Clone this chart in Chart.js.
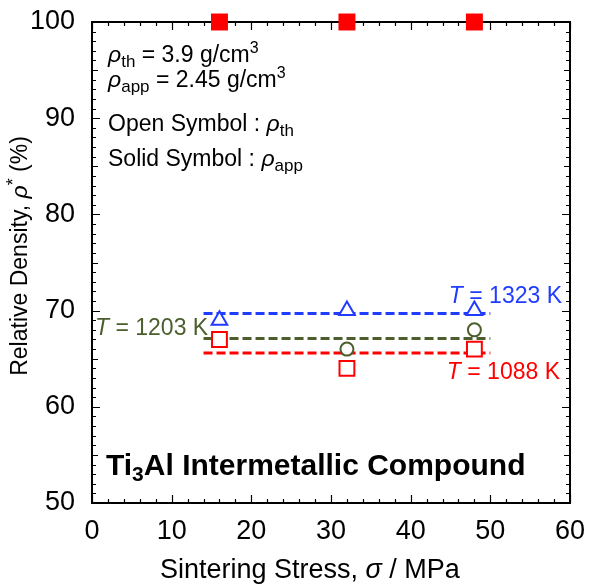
<!DOCTYPE html>
<html>
<head>
<meta charset="utf-8">
<script src="https://cdn.jsdelivr.net/npm/chart.js@4"></script>
<style>
  html, body { margin: 0; padding: 0; background: #fff; }
  #wrap { width: 589px; height: 585px; }
</style>
</head>
<body>
<div id="wrap"><canvas id="density"></canvas></div>
<script>
// sintering stress (MPa)
const stress = [16, 32, 48];
// solid symbols: rho_app based density
const apparent = [100, 100, 100];
// open symbols: rho_th based density
const theo1323 = [69, 70, 70];
const theo1203 = [null, 66, 68];
const theo1088 = [67, 64, 66];
// dashed average lines
const fitRange = [14, 50];
const mean1323 = 69.7;
const mean1203 = 67.1;
const mean1088 = 65.6;

const xTicks = [0, 10, 20, 30, 40, 50, 60];
const yTicks = [50, 60, 70, 80, 90, 100];

const BLUE = '#1f3cff';
const GREEN = '#4b5e2c';
const RED = '#ff0000';
const FONT = '"Liberation Sans", Arial, sans-serif';

const pts = ys => stress.map((x, i) => ({ x: x, y: ys[i] })).filter(p => p.y !== null);
const flat = m => fitRange.map(x => ({ x: x, y: m }));

// draw a run of text pieces with different fonts / offsets
function rich(ctx, parts, x, y, align) {
  let w = 0;
  parts.forEach(p => { ctx.font = p.f; w += ctx.measureText(p.t).width; });
  let cx = align === 'right' ? x - w : align === 'center' ? x - w / 2 : x;
  parts.forEach(p => {
    ctx.font = p.f;
    ctx.fillText(p.t, cx, y + (p.dy || 0));
    cx += ctx.measureText(p.t).width;
  });
}

// keep the plot box fixed, labels may overhang
function noPad(s) {
  s.paddingLeft = s.paddingRight = s.paddingTop = s.paddingBottom = 0;
}

const frame = {
  id: 'frame',
  beforeDatasetsDraw(chart) {
    const { ctx, chartArea: a, scales: { x, y } } = chart;
    ctx.save();
    ctx.strokeStyle = '#000';
    ctx.lineWidth = 1.2;
    ctx.beginPath();
    for (let v = 0; v <= 60; v += 2) {
      const px = Math.round(x.getPixelForValue(v)) + 0.5;
      const len = v % 10 === 0 ? 8 : 4;
      ctx.moveTo(px, a.bottom); ctx.lineTo(px, a.bottom - len);
      ctx.moveTo(px, a.top); ctx.lineTo(px, a.top + len);
    }
    for (let v = 50; v <= 100; v += 1) {
      const py = Math.round(y.getPixelForValue(v)) + 0.5;
      const len = v % 10 === 0 ? 8 : v % 5 === 0 ? 6 : 4;
      ctx.moveTo(a.left, py); ctx.lineTo(a.left + len, py);
      ctx.moveTo(a.right, py); ctx.lineTo(a.right - len, py);
    }
    ctx.stroke();
    ctx.lineWidth = 2;
    ctx.strokeRect(a.left, a.top, a.right - a.left, a.bottom - a.top);
    ctx.restore();
  },
  afterDraw(chart) {
    const { ctx } = chart;
    ctx.save();
    ctx.fillStyle = '#000';
    ctx.textBaseline = 'alphabetic';
    const f = s => s + 'px ' + FONT;
    const fi = s => 'italic ' + s + 'px ' + FONT;

    // axis titles
    rich(ctx, [
      { t: 'Sintering Stress, ', f: f(27) },
      { t: 'σ', f: fi(27) },
      { t: ' / MPa', f: f(27) }
    ], 160, 578, 'left');

    ctx.save();
    ctx.translate(27, 256);
    ctx.rotate(-Math.PI / 2);
    rich(ctx, [
      { t: 'Relative Density, ', f: f(23) },
      { t: 'ρ', f: fi(23) },
      { t: '*', f: f(18), dy: -8 },
      { t: ' (%)', f: f(23) }
    ], 0, 0, 'center');
    ctx.restore();

    // legend notes
    rich(ctx, [
      { t: 'ρ', f: fi(23) }, { t: 'th', f: f(17), dy: 5 },
      { t: ' = 3.9 g/cm', f: f(23) }, { t: '3', f: f(16), dy: -9 }
    ], 108, 62, 'left');
    rich(ctx, [
      { t: 'ρ', f: fi(23) }, { t: 'app', f: f(17), dy: 5 },
      { t: ' = 2.45 g/cm', f: f(23) }, { t: '3', f: f(16), dy: -9 }
    ], 108, 87, 'left');
    rich(ctx, [
      { t: 'Open Symbol : ', f: f(23) },
      { t: 'ρ', f: fi(23) }, { t: 'th', f: f(17), dy: 5 }
    ], 108, 131, 'left');
    rich(ctx, [
      { t: 'Solid Symbol : ', f: f(23) },
      { t: 'ρ', f: fi(23) }, { t: 'app', f: f(17), dy: 5 }
    ], 108, 166, 'left');

    // material name
    rich(ctx, [
      { t: 'Ti', f: 'bold 30px ' + FONT },
      { t: '3', f: 'bold 21px ' + FONT, dy: 6 },
      { t: 'Al Intermetallic Compound', f: 'bold 30px ' + FONT }
    ], 106, 475, 'left');

    // temperature labels
    ctx.fillStyle = BLUE;
    rich(ctx, [{ t: 'T', f: fi(23) }, { t: ' = 1323 K', f: f(23) }], 562, 303, 'right');
    ctx.fillStyle = GREEN;
    rich(ctx, [{ t: 'T', f: fi(23) }, { t: ' = 1203 K', f: f(23) }], 95, 335, 'left');
    ctx.fillStyle = RED;
    rich(ctx, [{ t: 'T', f: fi(23) }, { t: ' = 1088 K', f: f(23) }], 560, 379, 'right');
    ctx.restore();
  }
};

const openPt = (label, data, color, style, r) => ({
  label, data, showLine: false,
  pointStyle: style, pointRadius: r, pointHoverRadius: r,
  pointBorderWidth: 2, borderColor: color,
  pointBackgroundColor: '#fff', backgroundColor: '#fff', order: 1
});
const dash = (label, data, color) => ({
  label, data, showLine: true, pointRadius: 0,
  borderColor: color, borderWidth: 3, borderDash: [9, 4], order: 5
});

new Chart(document.getElementById('density'), {
  type: 'scatter',
  data: {
    datasets: [
      dash('mean 1323 K', flat(mean1323), BLUE),
      dash('mean 1203 K', flat(mean1203), GREEN),
      dash('mean 1088 K', flat(mean1088), RED),
      openPt('1323 K', pts(theo1323), BLUE, 'triangle', 9),
      openPt('1203 K', pts(theo1203), GREEN, 'circle', 6.5),
      openPt('1088 K', pts(theo1088), RED, 'rect', 10.5),
      {
        label: 'rho_app', data: pts(apparent), showLine: false,
        pointStyle: 'rect', pointRadius: 12, pointHoverRadius: 12,
        pointBorderWidth: 0, pointBackgroundColor: RED, borderColor: RED, order: 0
      }
    ]
  },
  options: {
    responsive: true,
    maintainAspectRatio: false,
    animation: false,
    clip: false,
    layout: { padding: { top: 22, right: 19, left: 0, bottom: 0 } },
    plugins: { legend: { display: false }, tooltip: { enabled: false } },
    scales: {
      x: {
        type: 'linear', min: 0, max: 60,
        afterBuildTicks: s => { s.ticks = xTicks.map(v => ({ value: v })); },
        afterFit: s => { s.height = 82; noPad(s); },
        grid: { display: false, drawTicks: false },
        border: { display: false },
        ticks: { color: '#000', font: { family: FONT, size: 27 }, padding: 12, maxRotation: 0 }
      },
      y: {
        type: 'linear', min: 50, max: 100,
        afterBuildTicks: s => { s.ticks = yTicks.map(v => ({ value: v })); },
        afterFit: s => { s.width = 92; noPad(s); },
        grid: { display: false, drawTicks: false },
        border: { display: false },
        ticks: { color: '#000', font: { family: FONT, size: 27 }, padding: 17 }
      }
    }
  },
  plugins: [frame]
});
</script>
</body>
</html>
